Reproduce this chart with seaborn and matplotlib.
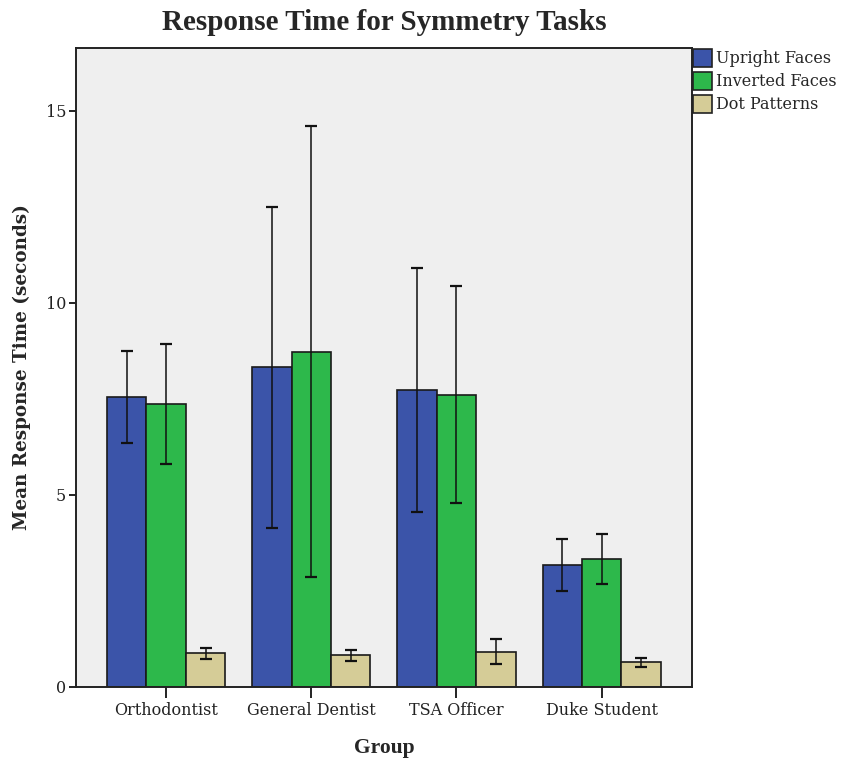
import numpy as np
import pandas as pd
import matplotlib
matplotlib.use("Agg")
import matplotlib.pyplot as plt
import seaborn as sns
from matplotlib.patches import Patch

groups = ["Orthodontist", "General Dentist", "TSA Officer", "Duke Student"]
tasks = ["Upright Faces", "Inverted Faces", "Dot Patterns"]

upright_mean = [7.55, 8.31, 7.73, 3.17]
inverted_mean = [7.36, 8.72, 7.60, 3.32]
dot_mean = [0.87, 0.82, 0.91, 0.63]

upright_lo = [6.34, 4.12, 4.54, 2.50]
upright_hi = [8.74, 12.48, 10.90, 3.85]
inverted_lo = [5.80, 2.85, 4.79, 2.67]
inverted_hi = [8.92, 14.60, 10.42, 3.98]
dot_lo = [0.71, 0.67, 0.58, 0.52]
dot_hi = [1.02, 0.96, 1.25, 0.74]

yticks = [0, 5, 10, 15]

colors = ["#3B54A9", "#2DB84B", "#D5CC97"]

means = [upright_mean, inverted_mean, dot_mean]
los = [upright_lo, inverted_lo, dot_lo]
his = [upright_hi, inverted_hi, dot_hi]

rows = []
for t, m, lo, hi in zip(tasks, means, los, his):
    for g, mv, l, h in zip(groups, m, lo, hi):
        rows.append({"Group": g, "Task": t, "Mean": mv, "Lo": l, "Hi": h})
df = pd.DataFrame(rows)

sns.set_style("white")
plt.rcParams["font.family"] = ["DejaVu Serif", "Liberation Serif"]

fig = plt.figure(figsize=(8.41, 7.64), dpi=100)
ax = fig.add_axes([0.0904, 0.1012, 0.7321, 0.8356])
ax.set_facecolor("#EFEFEF")

width = 0.815
sns.barplot(data=df, x="Group", y="Mean", hue="Task", order=groups, hue_order=tasks,
            palette=colors, width=width, errorbar=None, edgecolor="#1a1a1a",
            linewidth=1.2, ax=ax, legend=False, saturation=1)

n = len(tasks)
bw = width / n
for i, t in enumerate(tasks):
    sub = df[df["Task"] == t].set_index("Group").loc[groups]
    xs = np.arange(len(groups)) - width / 2 + bw * (i + 0.5)
    m = sub["Mean"].to_numpy()
    yerr = np.vstack([m - sub["Lo"].to_numpy(), sub["Hi"].to_numpy() - m])
    ax.errorbar(xs, m, yerr=yerr, fmt="none", ecolor="#111111", elinewidth=1.1,
                capsize=4, capthick=1.6, zorder=5)

ax.set_xlim(-0.62, 3.62)
ax.set_ylim(0, 16.62)
ax.set_yticks(yticks)
ax.set_yticklabels([str(v) for v in yticks])

for s in ax.spines.values():
    s.set_visible(True)
    s.set_color("#222222")
    s.set_linewidth(1.4)

ax.tick_params(axis="both", which="major", direction="out", width=1.4, bottom=True, left=True,
               color="#222222", labelsize=11.5, labelcolor="#222222")
ax.tick_params(axis="x", length=8, pad=3)
ax.tick_params(axis="y", length=5, pad=2)

ax.set_xlabel("Group", fontsize=15.5, fontweight="bold", labelpad=14,
              family=["Liberation Serif", "DejaVu Serif"])
ax.set_ylabel("Mean Response Time (seconds)", fontsize=13.2, fontweight="bold", labelpad=11)
ax.set_title("Response Time for Symmetry Tasks", fontsize=21, fontweight="bold", pad=13,
             family=["Liberation Serif", "DejaVu Serif"])

handles = [Patch(facecolor=c, edgecolor="#222222", linewidth=1.2, label=t) for c, t in zip(colors, tasks)]
leg = fig.legend(handles=handles, loc="upper left", bbox_to_anchor=(0.824, 0.936),
                 frameon=False, fontsize=11.5, handlelength=1.2, handleheight=1.35,
                 handletextpad=0.25, labelspacing=0.3, borderaxespad=0, borderpad=0.0)

fig.savefig("out.png", dpi=100)
